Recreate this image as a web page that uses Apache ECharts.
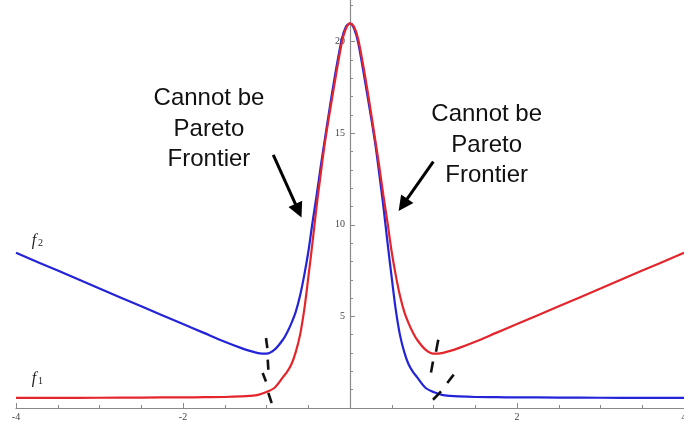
<!DOCTYPE html>
<html>
<head>
<meta charset="utf-8">
<script src="https://cdn.jsdelivr.net/npm/echarts@6/dist/echarts.min.js"></script>
<style>html,body{margin:0;padding:0;background:#fff;}#c{width:684px;height:424px;}</style>
</head>
<body>
<div id="c"></div>
<script>
// x sample positions
const xs = [-4,-3.5,-3,-2.5,-2,-1.75,-1.5,-1.3,-1.2,-1.1,-1.0,-0.9,-0.8,-0.75,-0.7,-0.65,-0.6,-0.55,-0.5,-0.45,-0.4,-0.35,-0.3,-0.2,-0.1,-0.05,
            0,
            0.05,0.1,0.2,0.3,0.35,0.4,0.45,0.5,0.55,0.6,0.65,0.7,0.75,0.8,0.9,1.0,1.1,1.2,1.3,1.5,1.75,2,2.5,3,3.5,4];
// f1 (red)
const f1 = [0.55,0.55,0.56,0.57,0.58,0.59,0.6,0.63,0.66,0.72,0.87,1.12,1.7,2.0,2.4,3.05,3.95,5.3,7.1,9.0,11.0,12.8,14.5,17.3,19.9,20.7,
            21.0,
            20.8,20.1,17.6,14.7,13.2,11.6,10.1,8.5,7.2,6.1,5.25,4.65,4.15,3.75,3.2,2.97,3.0,3.12,3.27,3.62,4.1,4.58,5.55,6.52,7.5,8.47];
// f2 (blue)
const f2 = [8.47,7.5,6.52,5.55,4.58,4.1,3.62,3.27,3.12,3.0,2.97,3.2,3.75,4.15,4.65,5.25,6.1,7.2,8.5,10.1,11.6,13.2,14.7,17.6,20.1,20.8,
            21.0,
            20.7,19.9,17.3,14.5,12.8,11.0,9.0,7.1,5.3,3.95,3.05,2.4,2.0,1.7,1.12,0.87,0.72,0.66,0.63,0.6,0.59,0.58,0.57,0.56,0.55,0.55];
// dashed marker segments (data units)
const dashSegments = [
  [[-1.006,3.82],[-0.990,3.27]],
  [[-0.985,2.64],[-0.978,2.09]],
  [[-1.046,1.91],[-1.006,1.45]],
  [[-0.978,0.82],[-0.938,0.27]],
  [[1.057,3.73],[1.030,3.07]],
  [[0.994,2.54],[0.970,1.94]],
  [[1.242,1.82],[1.165,1.36]],
  [[1.090,0.91],[0.994,0.45]]
];
// arrows: tail -> head (data units)
const arrows = [
  [[-0.919,13.82],[-0.618,10.77]],
  [[0.998,13.45],[0.634,11.09]]
];
const noteText = 'Cannot be\nPareto\nFrontier';
const notePos = [[-1.689,15.22],[1.637,14.36]];
const curveLabels = [{name:'f', sub:'2', pos:[-3.785,9.13]},{name:'f', sub:'1', pos:[-3.785,1.6]}];

const xTickStep = 2, yTickStep = 5;

const chart = echarts.init(document.getElementById('c'), null, {renderer:'canvas'});
const axisCol = '#8a8a8a';
const gridLeft = 16, gridRight = 0;
const option = {
  animation: false,
  backgroundColor: '#fff',
  grid: {left: gridLeft, right: gridRight, top: -50, bottom: 16, containLabel: false, outerBoundsMode: 'none'},
  xAxis: {
    type: 'value', min: -4, max: 4, interval: xTickStep,
    axisLine: {onZero: true, lineStyle: {color: axisCol, width: 1.2}},
    axisTick: {inside: true, length: 5, lineStyle: {color: axisCol}},
    minorTick: {show: true, splitNumber: 4, length: 3, lineStyle: {color: axisCol}},
    axisLabel: {formatter: v => v === 0 ? '' : String(v), fontSize: 10, color: '#444', margin: 4, fontFamily: 'Liberation Serif'},
    splitLine: {show: false}
  },
  yAxis: {
    type: 'value', min: 0, max: 25, interval: yTickStep,
    offset: -(684 - gridLeft - gridRight) / 2,
    axisLine: {onZero: false, lineStyle: {color: axisCol, width: 1.2}},
    axisTick: {inside: true, length: 5, lineStyle: {color: axisCol}},
    minorTick: {show: true, splitNumber: 5, length: 3, lineStyle: {color: axisCol}},
    axisLabel: {formatter: v => v === 0 ? '' : String(v), fontSize: 10, color: '#444', margin: 5, fontFamily: 'Liberation Serif'},
    splitLine: {show: false}
  },
  series: [
    {type: 'line', name: 'f2', data: xs.map((x,i)=>[x,f2[i]]), showSymbol: false, smooth: 0.3,
     lineStyle: {color: '#2323d8', width: 2.2}, z: 2},
    {type: 'line', name: 'f1', data: xs.map((x,i)=>[x,f1[i]]), showSymbol: false, smooth: 0.3,
     lineStyle: {color: '#e4262c', width: 2.2}, z: 3},
    {type: 'lines', coordinateSystem: 'cartesian2d', polyline: false,
     data: dashSegments.map(s=>({coords: s})), symbol: 'none',
     lineStyle: {color: '#111', width: 2.6, opacity: 1}, z: 4},
    {type: 'lines', coordinateSystem: 'cartesian2d', polyline: false,
     data: arrows.map(s=>({coords: s})), symbol: ['none','triangle'], symbolSize: [0, 15],
     lineStyle: {color: '#000', width: 3, opacity: 1}, itemStyle: {color:'#000'}, z: 5}
  ]
};
chart.setOption(option);

const px = p => chart.convertToPixel({gridIndex: 0}, p);
const g = [];
notePos.forEach(p => {
  const q = px(p);
  g.push({type: 'text', x: q[0], y: q[1], style: {text: noteText, textAlign: 'center', textVerticalAlign: 'middle',
    font: '24px "Liberation Sans", Arial, sans-serif', fill: '#111', lineHeight: 30.5}});
});
curveLabels.forEach(c => {
  const q = px(c.pos);
  g.push({type: 'text', x: q[0], y: q[1], style: {text: c.name, textAlign: 'center', textVerticalAlign: 'middle',
    font: 'italic 16px "Liberation Serif", serif', fill: '#222'}});
  g.push({type: 'text', x: q[0] + 6.5, y: q[1] + 3, style: {text: c.sub, textAlign: 'center', textVerticalAlign: 'middle',
    font: '10px "Liberation Serif", serif', fill: '#222'}});
});
chart.setOption({graphic: g});
</script>
</body>
</html>
